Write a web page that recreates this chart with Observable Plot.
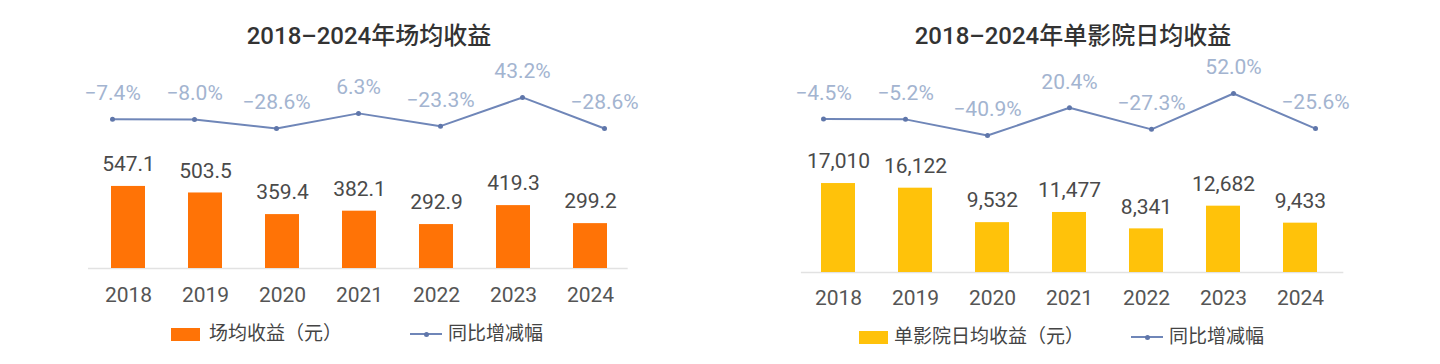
<!DOCTYPE html>
<html>
<head>
<meta charset="utf-8">
<script src="https://cdn.jsdelivr.net/npm/d3@7"></script>
<script src="https://cdn.jsdelivr.net/npm/@observablehq/plot@0.6"></script>
<style>
  html, body { margin: 0; padding: 0; background: #fff; }
  #root { position: relative; width: 1440px; height: 364px; overflow: hidden; background: #fff;
          font-family: Roboto, "Noto Sans CJK SC", sans-serif; }
  .abs { position: absolute; }
  .title { font-size: 24px; font-weight: 500; color: #333; line-height: 24px; white-space: nowrap; transform: translateX(-50%); }
  .legtext { font-size: 19px; color: #444; line-height: 20px; white-space: nowrap; }
</style>
</head>
<body>
<div id="root"></div>
<script>
// ---- data ----
const years = ["2018", "2019", "2020", "2021", "2022", "2023", "2024"];
const screeningRevenue = [547.1, 503.5, 359.4, 382.1, 292.9, 419.3, 299.2];
const screeningYoY = [-7.4, -8.0, -28.6, 6.3, -23.3, 43.2, -28.6];
const cinemaDailyRevenue = [17010, 16122, 9532, 11477, 8341, 12682, 9433];
const cinemaYoY = [-4.5, -5.2, -40.9, 20.4, -27.3, 52.0, -25.6];

const titleLeft = "2018–2024年场均收益";
const titleRight = "2018–2024年单影院日均收益";
const legendBarLeft = "场均收益（元）";
const legendBarRight = "单影院日均收益（元）";
const legendLine = "同比增减幅";

const root = document.getElementById("root");
const font = 'Roboto, "Noto Sans CJK SC", sans-serif';
const lineColor = "#6f86b8";
const pctColor = "#a3b4d0";

function makeChart(opts) {
  const rows = years.map((y, i) => ({year: y, value: opts.values[i], pct: opts.pcts[i]}));
  const common = {
    width: 720, height: 364,
    marginLeft: opts.mL, marginRight: opts.mR,
    style: {fontFamily: font, background: "transparent", overflow: "visible"}
  };
  const bars = Plot.plot({
    ...common,
    marginTop: opts.barTop, marginBottom: opts.barBottom,
    x: {domain: years, padding: 0.5625, axis: null},
    y: {domain: opts.barDomain, axis: null},
    marks: [
      Plot.ruleY([0], {stroke: "#e2e2e2", strokeWidth: 1.5, insetLeft: opts.insL, insetRight: opts.insR}),
      Plot.barY(rows, {x: "year", y: "value", fill: opts.color}),
      Plot.text(rows, {x: "year", y: "value", text: d => opts.fmt(d.value), dy: -22, fontSize: 21, fill: "#4a4a4a"}),
      Plot.axisX({tickSize: 0, tickPadding: opts.tickPad, fontSize: 21, color: "#555", label: null})
    ]
  });
  const line = Plot.plot({
    ...common,
    marginTop: opts.lineTop, marginBottom: opts.lineBottom,
    x: {domain: years, padding: 0.5625, axis: null},
    y: {domain: opts.lineDomain, axis: null},
    marks: [
      Plot.line(rows, {x: "year", y: "pct", stroke: lineColor, strokeWidth: 2}),
      Plot.dot(rows, {x: "year", y: "pct", r: 2.5, fill: "#5f76aa"}),
      Plot.text(rows, {x: "year", y: "pct", text: d => d3.format(".1f")(d.pct) + "%", dy: -26, fontSize: 21, fill: pctColor})
    ]
  });
  for (const svg of [bars, line]) {
    svg.style.position = "absolute";
    svg.style.left = opts.left + "px";
    svg.style.top = "0px";
    root.appendChild(svg);
  }
  const t = document.createElement("div");
  t.className = "abs title";
  t.style.left = opts.titleX + "px";
  t.style.top = "24px";
  t.textContent = opts.title;
  root.appendChild(t);

  // legend
  const L = opts.leg;
  const r = document.createElement("div");
  r.className = "abs";
  Object.assign(r.style, {left: L.rx + "px", top: (L.cy - 6.5) + "px", width: L.rw + "px", height: "13px", background: opts.color});
  root.appendChild(r);
  const lt = document.createElement("div");
  lt.className = "abs legtext";
  Object.assign(lt.style, {left: L.tx + "px", top: (L.cy - 10) + "px"});
  lt.textContent = opts.legendBar;
  root.appendChild(lt);
  const ll = document.createElement("div");
  ll.className = "abs";
  Object.assign(ll.style, {left: L.lx + "px", top: (L.cy - 1) + "px", width: "32px", height: "2px", background: lineColor});
  root.appendChild(ll);
  const ld = document.createElement("div");
  ld.className = "abs";
  Object.assign(ld.style, {left: (L.lx + 13.5) + "px", top: (L.cy - 2.5) + "px", width: "5px", height: "5px", borderRadius: "50%", background: "#5f76aa"});
  root.appendChild(ld);
  const lt2 = document.createElement("div");
  lt2.className = "abs legtext";
  Object.assign(lt2.style, {left: L.lt + "px", top: (L.cy - 10) + "px"});
  lt2.textContent = legendLine;
  root.appendChild(lt2);
}

makeChart({
  left: 0, mL: 64.7, mR: 67.7, insL: 23.3, insR: 24.6,
  values: screeningRevenue, pcts: screeningYoY,
  color: "#ff7306",
  fmt: d3.format(".1f"),
  barTop: 178, barBottom: 96, barDomain: [0, 600], tickPad: 19,
  lineTop: 94, lineBottom: 226.8, lineDomain: [-50, 50],
  title: titleLeft, titleX: 369,
  legendBar: legendBarLeft,
  leg: {rx: 171, rw: 29, tx: 209, cy: 334, lx: 410, lt: 448}
});

makeChart({
  left: 720, mL: 54.9, mR: 77.7, insL: 26, insR: 19,
  values: cinemaDailyRevenue, pcts: cinemaYoY,
  color: "#ffc20a",
  fmt: d3.format(","),
  barTop: 167.4, barBottom: 92, barDomain: [0, 20000], tickPad: 18,
  lineTop: 89.4, lineBottom: 224.9, lineDomain: [-50, 60],
  title: titleRight, titleX: 1073,
  legendBar: legendBarRight,
  leg: {rx: 859, rw: 29, tx: 894, cy: 337, lx: 1131, lt: 1169}
});
</script>
</body>
</html>
